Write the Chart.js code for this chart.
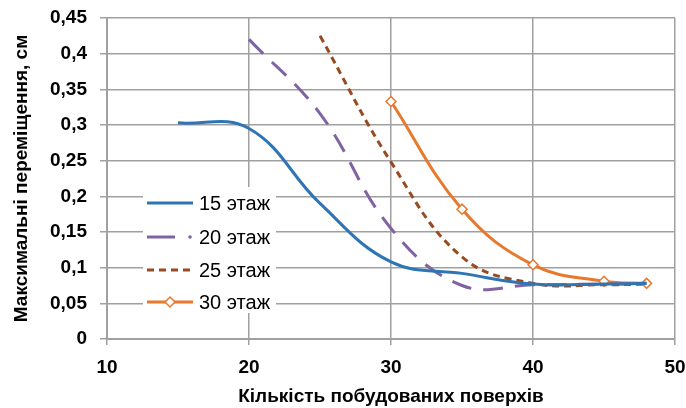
<!DOCTYPE html>
<html>
<head>
<meta charset="utf-8">
<script src="https://cdn.jsdelivr.net/npm/chart.js@4.4.0/dist/chart.umd.min.js"></script>
<style>
  html, body { margin: 0; padding: 0; background: #fff; }
  #wrap { width: 686px; height: 408px; position: relative; }
</style>
</head>
<body>
<div id="wrap"><canvas id="chart"></canvas></div>
<script>
// values
const seriesNames = ['15 этаж', '20 этаж', '25 этаж', '30 этаж'];

const floors15X = [15, 20, 25, 30, 35, 40, 45, 48];
const floors15Y = [0.303, 0.295, 0.19, 0.108, 0.092, 0.077, 0.077, 0.078];

const floors20X = [20, 25, 30, 35, 40, 45, 48];
const floors20Y = [0.42, 0.316, 0.155, 0.075, 0.076, 0.077, 0.078];

const floors25X = [25, 30, 35, 40, 45, 48];
const floors25Y = [0.425, 0.248, 0.115, 0.078, 0.076, 0.077];

const floors30X = [30, 35, 40, 45, 48];
const floors30Y = [0.333, 0.182, 0.104, 0.081, 0.078];

const yTickLabels = ['0', '0,05', '0,1', '0,15', '0,2', '0,25', '0,3', '0,35', '0,4', '0,45'];
const xTickLabels = ['10', '20', '30', '40', '50'];

function toPoints(xs, ys) {
    return xs.map((x, i) => ({ x: x, y: ys[i] }));
}

const FONT = "'Liberation Sans', Arial, sans-serif";
const GRID = '#a0a0a0';

const colors = ['#2e75b6', '#8064a2', '#9a4a1f', '#e8782b'];
const dashes = [[], [20, 12], [7, 5], []];

// legend drawn inside the plot area, with white box
const insideLegend = {
    id: 'insideLegend',
    afterDatasetsDraw(chart) {
        const ctx = chart.ctx;
        ctx.save();
        ctx.fillStyle = '#fff';
        ctx.fillRect(143, 187, 133, 126);
        const rows = [203, 237, 270, 302];
        chart.data.datasets.forEach((ds, i) => {
            const y = rows[i];
            ctx.strokeStyle = ds.borderColor;
            ctx.lineWidth = 3;
            ctx.lineCap = 'butt';
            if (i === 1) {
                ctx.beginPath();
                ctx.moveTo(147, y); ctx.lineTo(175, y);
                ctx.stroke();
                ctx.fillStyle = ds.borderColor;
                ctx.beginPath();
                ctx.arc(190, y, 1.8, 0, Math.PI * 2);
                ctx.fill();
            } else {
                ctx.setLineDash(ds.borderDash || []);
                ctx.beginPath();
                ctx.moveTo(147, y); ctx.lineTo(193, y);
                ctx.stroke();
                ctx.setLineDash([]);
            }
            if (i === 3) {
                ctx.fillStyle = '#fff';
                ctx.lineWidth = 1.5;
                ctx.beginPath();
                ctx.moveTo(170, y - 5); ctx.lineTo(175, y); ctx.lineTo(170, y + 5); ctx.lineTo(165, y);
                ctx.closePath();
                ctx.fill(); ctx.stroke();
            }
            ctx.fillStyle = '#000';
            ctx.font = '20px ' + FONT;
            ctx.textBaseline = 'middle';
            ctx.fillText(ds.label, 199, y + 1);
        });
        ctx.restore();
    }
};

const xsAll = [floors15X, floors20X, floors25X, floors30X];
const ysAll = [floors15Y, floors20Y, floors25Y, floors30Y];

const datasets = seriesNames.map((name, i) => ({
    label: name,
    data: toPoints(xsAll[i], ysAll[i]),
    borderColor: colors[i],
    backgroundColor: colors[i],
    borderWidth: 3,
    borderDash: dashes[i],
    tension: 0.4,
    pointRadius: i === 3 ? 5 : 0,
    pointStyle: 'rectRot',
    pointBackgroundColor: '#fff',
    pointBorderColor: colors[i],
    pointBorderWidth: 1.5,
    fill: false
}));

new Chart(document.getElementById('chart'), {
    type: 'line',
    data: { datasets: datasets },
    plugins: [insideLegend],
    options: {
        responsive: true,
        maintainAspectRatio: false,
        animation: false,
        layout: { padding: { top: 18, right: 11, left: 0, bottom: 0 } },
        plugins: { legend: { display: false }, tooltip: { enabled: false } },
        scales: {
            x: {
                type: 'linear',
                min: 10, max: 50,
                afterFit(scale) {
                    scale.height = 69;
                    scale.paddingLeft = 0;
                    scale.paddingRight = 0;
                },
                ticks: {
                    stepSize: 10,
                    color: '#000',
                    font: { family: FONT, size: 19, weight: 'bold' },
                    padding: 11,
                    callback: (v, i) => xTickLabels[i]
                },
                grid: { color: GRID, lineWidth: 1.5, tickLength: 6, tickColor: GRID },
                border: { color: GRID, width: 2 },
                title: {
                    display: true,
                    text: 'Кількість побудованих поверхів',
                    color: '#000',
                    font: { family: FONT, size: 19, weight: 'bold' },
                    padding: { top: 4, bottom: 0 }
                }
            },
            y: {
                min: 0, max: 0.45,
                afterFit(scale) {
                    scale.width = 107;
                    scale.paddingTop = 0;
                    scale.paddingBottom = 0;
                },
                ticks: {
                    stepSize: 0.05,
                    color: '#000',
                    font: { family: FONT, size: 19, weight: 'bold' },
                    padding: 13,
                    callback: (v, i) => yTickLabels[i]
                },
                grid: { color: GRID, lineWidth: 1.5, tickLength: 7, tickColor: GRID },
                border: { color: GRID, width: 2 },
                title: {
                    display: true,
                    text: 'Максимальні переміщення, см',
                    color: '#000',
                    font: { family: FONT, size: 19, weight: 'bold' },
                    padding: { top: 10, bottom: 2 }
                }
            }
        }
    }
});
</script>
</body>
</html>
